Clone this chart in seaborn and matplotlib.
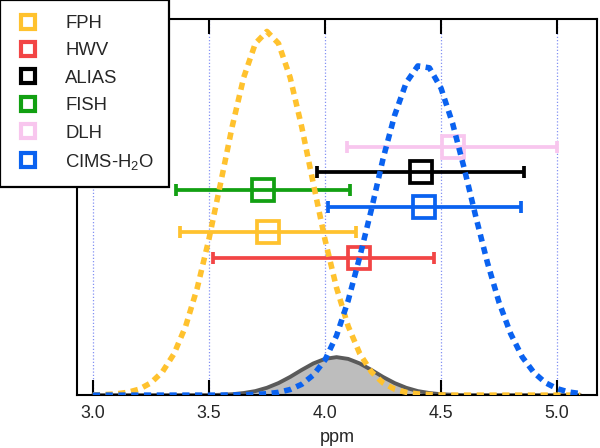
import matplotlib
matplotlib.use("Agg")
import matplotlib.pyplot as plt
from matplotlib.lines import Line2D
import seaborn as sns

# x grid (ppm) shared by the three curves
ppm = [3.00, 3.05, 3.10, 3.15, 3.20, 3.25, 3.30, 3.35, 3.40, 3.45, 3.50,
       3.55, 3.60, 3.65, 3.70, 3.75, 3.80, 3.85, 3.90, 3.95, 4.00, 4.05,
       4.10, 4.15, 4.20, 4.25, 4.30, 4.35, 4.40, 4.45, 4.50, 4.55, 4.60,
       4.65, 4.70, 4.75, 4.80, 4.85, 4.90, 4.95, 5.00, 5.05, 5.10]

fph_curve = [0.001, 0.003, 0.007, 0.016, 0.034, 0.070, 0.133, 0.237, 0.394, 0.613, 0.890,
             1.208, 1.532, 1.815, 2.009, 2.078, 2.009, 1.815, 1.532, 1.208, 0.890, 0.613,
             0.394, 0.237, 0.133, 0.070, 0.034, 0.016, 0.007, 0.003, 0.001, 0.0, 0.0,
             0.0, 0.0, 0.0, 0.0, 0.0, 0.0, 0.0, 0.0, 0.0, 0.0]

cims_curve = [0.0, 0.0, 0.0, 0.0, 0.0, 0.0, 0.0, 0.0, 0.0, 0.0, 0.0,
              0.0, 0.001, 0.002, 0.004, 0.008, 0.016, 0.032, 0.062, 0.115, 0.200, 0.340,
              0.540, 0.790, 1.060, 1.349, 1.598, 1.785, 1.881, 1.870, 1.754, 1.552, 1.295,
              1.019, 0.757, 0.530, 0.351, 0.218, 0.129, 0.071, 0.037, 0.018, 0.009]

overlap_curve = [0.0, 0.0, 0.0, 0.0, 0.0, 0.0, 0.0, 0.0, 0.0, 0.0, 0.0,
                 0.002, 0.005, 0.012, 0.023, 0.042, 0.069, 0.104, 0.144, 0.181, 0.207, 0.217,
                 0.207, 0.181, 0.144, 0.104, 0.069, 0.042, 0.023, 0.012, 0.005, 0.002, 0.0,
                 0.0, 0.0, 0.0, 0.0, 0.0, 0.0, 0.0, 0.0, 0.0, 0.0]

# instruments: mean and range
instruments = ["FPH", "HWV", "ALIAS", "FISH", "DLH", "CIMS-H$_\\mathregular{2}$O"]
means = [3.754, 4.147, 4.413, 3.733, 4.550, 4.427]
lows = [3.375, 3.517, 3.966, 3.358, 4.095, 4.013]
highs = [4.134, 4.470, 4.858, 4.108, 5.000, 4.845]
rows = [0.931, 0.782, 1.273, 1.170, 1.416, 1.073]
colors = ["#FFC22E", "#F24545", "#000000", "#12A012", "#F8C6EE", "#0A62F0"]

xticks = [3.0, 3.5, 4.0, 4.5, 5.0]

sns.set_theme(style="ticks")
plt.rcParams["font.family"] = ["Liberation Sans", "DejaVu Sans"]
plt.rcParams["mathtext.default"] = "regular"

fig, ax = plt.subplots(figsize=(6.0, 4.48), dpi=100)
fig.subplots_adjust(left=0.128, right=0.995, bottom=0.118, top=0.958)

for x in xticks:
    ax.axvline(x, color="#5a6cf0", lw=0.9, ls=(0, (1, 1.6)), alpha=0.75, zorder=0)

# overlap region
ax.fill_between(ppm, overlap_curve, color="#bdbdbd", lw=0, zorder=1)
sns.lineplot(x=ppm, y=overlap_curve, ax=ax, color="#5a5a5a", linewidth=2.8, zorder=2)

# instrument bars
for i in range(len(instruments)):
    ax.errorbar(means[i], rows[i],
                xerr=[[means[i] - lows[i]], [highs[i] - means[i]]],
                fmt="s", ms=16, mfc="none", mec=colors[i], mew=2.7,
                ecolor=colors[i], elinewidth=2.7, capsize=4.5, capthick=2.2,
                zorder=3)

dots = (0, (1.3, 1.0))
sns.lineplot(x=ppm, y=fph_curve, ax=ax, color="#FFC22E", linewidth=4.0,
             linestyle=dots, zorder=4)
sns.lineplot(x=ppm, y=cims_curve, ax=ax, color="#0A62F0", linewidth=4.0,
             linestyle=dots, zorder=4)

ax.set_xlim(2.931, 5.172)
ax.set_ylim(0, 2.15)
ax.set_xticks(xticks)
ax.set_xticklabels([f"{v:.1f}" for v in xticks])
ax.set_yticks([])
ax.tick_params(axis="x", direction="in", length=11, width=1.5, top=True,
               labelsize=12.8, pad=7, color="black")
ax.set_xlabel("ppm", fontsize=13, labelpad=5)
for s in ax.spines.values():
    s.set_linewidth(1.5)
    s.set_color("black")
    s.set_visible(True)

handles = [Line2D([], [], marker="s", ls="none", ms=10.5, mfc="white",
                  mec=c, mew=3.0) for c in colors]
leg = fig.legend(handles, instruments, loc="upper left", bbox_to_anchor=(0.0, 1.0),
                 fontsize=13.3, frameon=True, fancybox=False, framealpha=1,
                 edgecolor="black", borderaxespad=0, borderpad=0.82,
                 labelspacing=0.56, handlelength=1.4, handletextpad=1.3)
leg.get_frame().set_linewidth(1.6)

fig.savefig("out.png", dpi=100)
